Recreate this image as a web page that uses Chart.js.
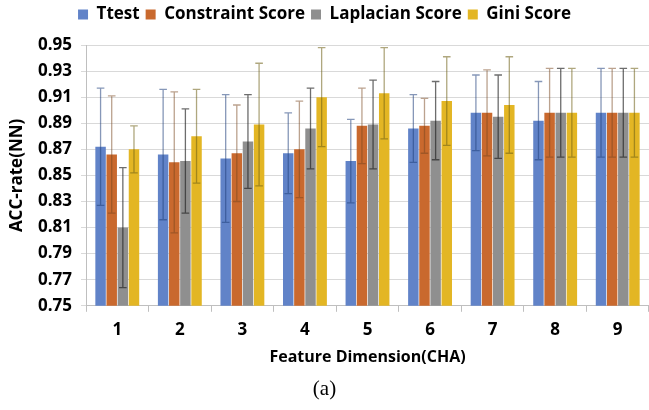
<!DOCTYPE html>
<html><head><meta charset="utf-8">
<script src="https://cdn.jsdelivr.net/npm/chart.js@4/dist/chart.umd.min.js"></script>
<style>html,body{margin:0;padding:0;background:#fff;overflow:hidden}#wrap{width:649px;height:410px;position:relative}</style>
</head><body><div id="wrap"><canvas id="c"></canvas></div>
<script>
const categories = ['1','2','3','4','5','6','7','8','9'];
const ttest = [0.872,0.866,0.863,0.867,0.861,0.886,0.898,0.892,0.898];
const ttestErr = [0.045,0.050,0.049,0.031,0.032,0.026,0.029,0.030,0.034];
const constraint = [0.866,0.860,0.867,0.870,0.888,0.888,0.898,0.898,0.898];
const constraintErr = [0.045,0.054,0.037,0.037,0.029,0.021,0.033,0.034,0.034];
const laplacian = [0.810,0.861,0.876,0.886,0.889,0.892,0.895,0.898,0.898];
const laplacianErr = [0.046,0.040,0.036,0.031,0.034,0.030,0.032,0.034,0.034];
const gini = [0.870,0.880,0.889,0.910,0.913,0.907,0.904,0.898,0.898];
const giniErr = [0.018,0.036,0.047,0.038,0.035,0.034,0.037,0.034,0.034];
const yTicks = [0.75,0.77,0.79,0.81,0.83,0.85,0.87,0.89,0.91,0.93,0.95];

const FONT = "'Open Sans', 'Liberation Sans', sans-serif";

const errorBars = {
  id: 'errorBars',
  afterDatasetsDraw(chart) {
    const ctx = chart.ctx;
    const ys = chart.scales.y;
    chart.data.datasets.forEach((ds, i) => {
      const meta = chart.getDatasetMeta(i);
      if (meta.hidden) return;
      meta.data.forEach((bar, j) => {
        const v = ds.data[j], e = ds.errors[j];
        const top = ys.getPixelForValue(v + e);
        const bot = ys.getPixelForValue(v - e);
        const x = bar.x;
        ctx.save();
        ctx.strokeStyle = ds.errorColor;
        ctx.lineWidth = 1.3;
        ctx.beginPath();
        ctx.moveTo(x, top); ctx.lineTo(x, bot);
        ctx.moveTo(x - 3.8, top); ctx.lineTo(x + 3.8, top);
        ctx.moveTo(x - 3.8, bot); ctx.lineTo(x + 3.8, bot);
        ctx.stroke();
        ctx.restore();
      });
    });
  }
};

const legendHeight = {
  id: 'legendHeight',
  afterInit(chart) {
    const lg = chart.legend;
    if (!lg) return;
    const orig = lg.fit.bind(lg);
    lg.fit = function () { orig(); this.height = 45; };
  }
};

new Chart(document.getElementById('c'), {
  type: 'bar',
  data: {
    labels: categories,
    datasets: [
      {label:'Ttest', data: ttest, errors: ttestErr, backgroundColor:'#6183C8', errorColor:'rgba(35,65,125,0.55)'},
      {label:'Constraint Score', data: constraint, errors: constraintErr, backgroundColor:'#C9692E', errorColor:'rgba(120,70,30,0.5)'},
      {label:'Laplacian Score', data: laplacian, errors: laplacianErr, backgroundColor:'#8F8F8F', errorColor:'rgba(30,30,30,0.65)'},
      {label:'Gini Score', data: gini, errors: giniErr, backgroundColor:'#E3B624', errorColor:'rgba(110,95,20,0.55)'}
    ]
  },
  options: {
    responsive: true,
    maintainAspectRatio: false,
    animation: false,
    datasets: { bar: { categoryPercentage: 0.712, barPercentage: 0.94, borderWidth: 0 } },
    layout: { padding: { top: 0, right: 0, bottom: 0, left: 0 } },
    plugins: {
      legend: {
        position: 'top',
        labels: { boxWidth: 10, boxHeight: 10, padding: 6, color: '#000', font: { family: FONT, size: 17, weight: 'bold' } }
      },
      subtitle: {
        display: true, position: 'bottom', text: '(a)', color: '#000',
        font: { family: "'Liberation Serif', 'Times New Roman', serif", size: 21, weight: 'normal' },
        padding: { top: 0, bottom: 8 }
      },
      tooltip: { enabled: false }
    },
    scales: {
      x: {
        afterFit(s) { s.height = 71; },
        grid: { display: true, drawOnChartArea: false, drawTicks: true, tickLength: 6, offset: true, color: '#BFBFBF' },
        border: { display: true, color: '#BFBFBF' },
        ticks: { color: '#000', padding: 8, font: { family: FONT, size: 17, weight: 'bold' } },
        title: { display: true, text: 'Feature Dimension(CHA)', color: '#000', padding: { top: 0, bottom: 10 }, font: { family: FONT, size: 16, weight: 'bold' } }
      },
      y: {
        min: 0.75, max: 0.95,
        afterFit(s) { s.width = 86; },
        afterBuildTicks(s) { s.ticks = yTicks.map(v => ({ value: v })); },
        grid: { color: '#D9D9D9', tickLength: 5, drawTicks: true },
        border: { display: true, color: '#BFBFBF' },
        ticks: { color: '#000', padding: 9, callback: v => v.toFixed(2), font: { family: FONT, size: 17, weight: 'bold' } },
        title: { display: true, text: 'ACC-rate(NN)', color: '#000', padding: { top: 7, bottom: 0 }, font: { family: FONT, size: 17, weight: 'bold' } }
      }
    }
  },
  plugins: [errorBars, legendHeight]
});
</script></body></html>
